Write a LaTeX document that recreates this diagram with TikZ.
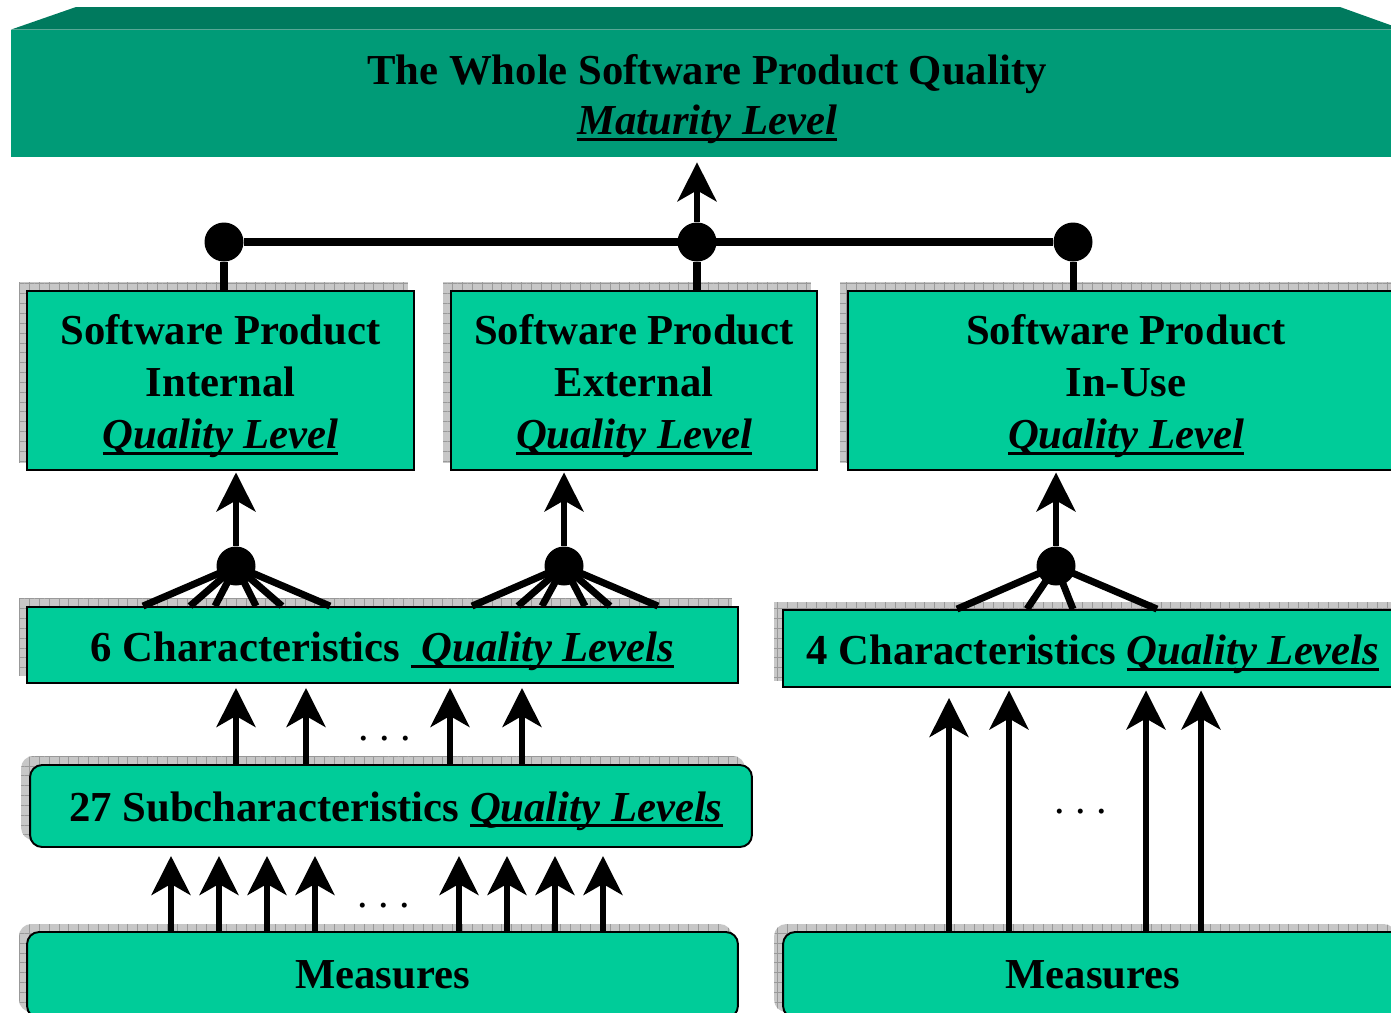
\documentclass[tikz,border=0pt]{standalone}
\usepackage{fontspec}
\setmainfont{Liberation Serif}
\usetikzlibrary{arrows.meta,backgrounds,patterns.meta}
\definecolor{boxc}{RGB}{0,204,153}
\definecolor{frontc}{RGB}{0,155,119}
\definecolor{topc}{RGB}{0,122,94}
\newcommand\qul[1]{\setbox0=\hbox{#1}\rlap{\raisebox{-3.6pt}{\rule{\wd0}{1.7pt}}}\box0}
\newcommand\lowr[2]{\raisebox{-#1}[\height][\depth]{#2}}
\newcommand\topstrut{\rule{0pt}{23.6pt}}
\tikzset{
  txt/.style={font=\fontsize{24.3}{29.8}\selectfont\bfseries, align=center},
  box/.style={txt, draw=black, line width=1.1pt, fill=boxc, inner sep=0pt},
  rbox/.style={box, rounded corners=0.24cm},
  shad/.style={fill=black!22,
    postaction={pattern={Lines[angle=0,distance=5.6pt,line width=0.5pt]}, pattern color=black!40},
    postaction={pattern={Lines[angle=90,distance=5.6pt,line width=0.5pt]}, pattern color=black!40}},
  bigdot/.style={circle, fill=black, inner sep=0pt, minimum size=0.78cm},
  thk/.style={line width=4pt},
  arr/.style={line width=3.4pt, -{Stealth[length=0.78cm,width=0.78cm,inset=0.22cm]}},
  ell/.style={font=\fontsize{24}{29}\selectfont, inner sep=0pt}
}
\begin{document}
\begin{tikzpicture}[x=0.02cm, y=-0.02cm]
\useasboundingbox (0,0) rectangle (1391,1012);

% top 3D slab
\node[txt, fill=frontc, inner sep=0pt, minimum width=27.84cm, minimum height=2.54cm,
      font=\fontsize{24.3}{28.6}\selectfont\bfseries] (top) at (707,93.5)
  {\topstrut The Whole Software Product Quality\\\qul{\itshape Maturity Level}};
\fill[topc] (top.north west) -- (76,7) -- (1340,7) -- (top.north east) -- cycle;

% level 1 boxes
\node[box, minimum width=7.74cm, minimum height=3.58cm] (ib) at (220.5,380.5)
  {\topstrut Software Product\\Internal\\\qul{\itshape Quality Level}};
\node[box, minimum width=7.32cm, minimum height=3.58cm] (eb) at (634,380.5)
  {\topstrut Software Product\\External\\\qul{\itshape Quality Level}};
\node[box, minimum width=11.12cm, minimum height=3.58cm] (ub) at (1126,380.5)
  {\topstrut Software Product\\In-Use\\\qul{\itshape Quality Level}};

% characteristic boxes
\node[box, minimum width=14.22cm, minimum height=1.52cm] (c6) at (382.5,645)
  {\lowr{3.8pt}{6 Characteristics\ \qul{\ \itshape Quality Levels}}};
\node[box, minimum width=12.4cm, minimum height=1.54cm] (c4) at (1093,648.5)
  {\lowr{3.4pt}{4 Characteristics \qul{\itshape Quality Levels}}};
\node[rbox, minimum width=14.44cm, minimum height=1.64cm] (s27) at (391,806)
  {\lowr{2.8pt}{\hspace{5.6pt}27 Subcharacteristics \qul{\itshape Quality Levels}}};
\node[rbox, minimum width=14.22cm, minimum height=1.72cm] (m1) at (382.5,975) {Measures};
\node[rbox, minimum width=12.4cm, minimum height=1.72cm] (m2) at (1093,975) {Measures};

% shadows
\begin{scope}[on background layer]
  \foreach \n in {ib,eb,ub,c6}
    \fill[shad] ([shift={(-7,-8)}]\n.south west) rectangle ([shift={(-7,-8)}]\n.north east);
  \fill[shad] ([shift={(-8,-7)}]c4.south west) rectangle ([shift={(-8,-7)}]c4.north east);
  \fill[shad, rounded corners=0.24cm] ([shift={(-8,-8)}]s27.south west) rectangle ([shift={(-8,-8)}]s27.north east);
  \fill[shad, rounded corners=0.24cm] ([shift={(-7,-7)}]m1.south west) rectangle ([shift={(-7,-7)}]m1.north east);
  \fill[shad, rounded corners=0.24cm] ([shift={(-8,-7)}]m2.south west) rectangle ([shift={(-8,-7)}]m2.north east);
\end{scope}

% top connector
\node[bigdot] (t1) at (224,242) {};
\node[bigdot] (t2) at (697,242) {};
\node[bigdot] (t3) at (1073,242) {};
\draw[thk] (t1) -- (t3);
\draw[thk] (t1) -- (t1 |- ib.north);
\draw[thk] (t2) -- (t2 |- eb.north);
\draw[thk] (t3) -- (t3 |- ub.north);
\draw[arr, shorten >=0.1cm] (t2) -- (t2 |- top.south);

% fans
\node[bigdot] (d1) at (236,566) {};
\node[bigdot] (d2) at (564,566) {};
\node[bigdot] (d3) at (1056,566) {};
\draw[arr, shorten >=0.03cm] (d1) -- (d1 |- ib.south);
\draw[arr, shorten >=0.03cm] (d2) -- (d2 |- eb.south);
\draw[arr, shorten >=0.03cm] (d3) -- (d3 |- ub.south);
\foreach \x in {143,190,215,256,282,330}
  \draw[thk] (d1.center) -- (\x,0 |- c6.north);
\foreach \x in {472,518,542,585,610,658}
  \draw[thk] (d2.center) -- (\x,0 |- c6.north);
\foreach \x in {957,1027,1073,1157}
  \draw[thk] (d3.center) -- (\x,0 |- c4.north);

% arrows 27 -> 6
\foreach \x in {236,306,450,522}
  \draw[arr, shorten >=0.08cm] (s27.north -| \x,0) -- (c6.south -| \x,0);
\node[ell] (e1) at (385,739) {.\hspace{5.9pt}.\hspace{5.9pt}.};

% arrows measures -> 27
\foreach \x in {171,219,267,315,459,507,555,603}
  \draw[arr, shorten >=0.16cm] (m1.north -| \x,0) -- (s27.south -| \x,0);
\node[ell] (e2) at (384,906) {.\hspace{5.9pt}.\hspace{5.9pt}.};

% arrows measures -> 4 characteristics
\draw[arr, shorten >=0.2cm] (m2.north -| 949,0) -- (c4.south -| 949,0);
\foreach \x in {1009,1146,1201}
  \draw[arr, shorten >=0.05cm] (m2.north -| \x,0) -- (c4.south -| \x,0);
\node[ell] (e3) at (1081,812) {.\hspace{5.9pt}.\hspace{5.9pt}.};
\end{tikzpicture}
\end{document}
